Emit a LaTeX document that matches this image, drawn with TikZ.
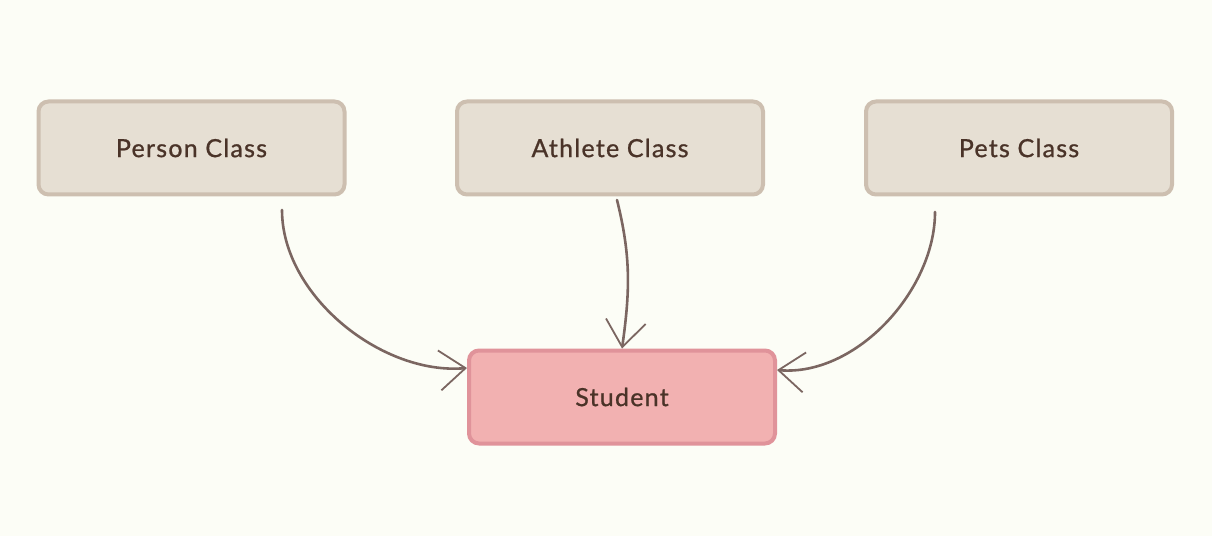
\documentclass[tikz,border=0pt]{standalone}
\usepackage{fontspec}
\setmainfont{Lato}[LetterSpace=5,FakeBold=0.9]
\usetikzlibrary{arrows.meta}
\definecolor{bg}{HTML}{FCFDF6}
\definecolor{boxfill}{HTML}{E6DFD3}
\definecolor{boxline}{HTML}{CDBFB0}
\definecolor{stufill}{HTML}{F2B1B1}
\definecolor{stuline}{HTML}{E0939A}
\definecolor{txt}{HTML}{4A3328}
\definecolor{arr}{HTML}{7B6661}
\tikzset{
  classbox/.style={draw=boxline, fill=boxfill, line width=4pt, rounded corners=10pt,
    minimum width=306pt, minimum height=93pt, inner sep=0pt, text=txt,
    font=\fontsize{25}{29}\selectfont},
  studentbox/.style={classbox, draw=stuline, fill=stufill},
  link/.style={draw=arr, line width=2.6pt, line cap=round,
    -{Straight Barb[length=26pt,width=40pt,line width=1.8pt]}}
}
\begin{document}
\begin{tikzpicture}[x=1pt,y=1pt]
\fill[bg] (0,0) rectangle (1212,536);
\useasboundingbox (0,0) rectangle (1212,536);
\node[classbox] (person) at (191.5,388) {Person Class};
\node[classbox] (athlete) at (610,388) {Athlete Class};
\node[classbox] (pets) at (1019,388) {Pets Class};
\node[studentbox] (student) at (622,139) {Student};
\coordinate (s1) at (282,326);
\coordinate (s2) at (617,336);
\coordinate (s3) at (935,324);
\draw[link] (s1) to[out=-90,in=185,looseness=0.9] ([yshift=29pt]student.west);
\draw[link] (s2) to[out=-76,in=82] (student.north);
\draw[link] (s3) to[out=-90,in=-5,looseness=0.9] ([yshift=27pt]student.east);
\end{tikzpicture}
\end{document}
